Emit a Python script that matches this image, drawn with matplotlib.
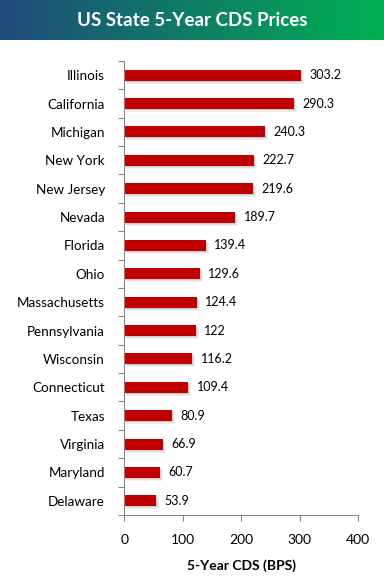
import numpy as np
import matplotlib.pyplot as plt
import matplotlib.transforms as mtransforms

# 数据
states = ['Illinois', 'California', 'Michigan', 'New York', 'New Jersey', 'Nevada',
          'Florida', 'Ohio', 'Massachusetts', 'Pennsylvania', 'Wisconsin',
          'Connecticut', 'Texas', 'Virginia', 'Maryland', 'Delaware']
cds = [303.2, 290.3, 240.3, 222.7, 219.6, 189.7, 139.4, 129.6, 124.4, 122,
       116.2, 109.4, 80.9, 66.9, 60.7, 53.9]
xticks = [0, 100, 200, 300, 400]

plt.rcParams['font.family'] = ['Lato', 'DejaVu Sans']

fig = plt.figure(figsize=(3.84, 5.78), dpi=100)

# 标题渐变条
hdr = fig.add_axes([0, 1 - 40 / 578, 1, 40 / 578])
grad = np.linspace(0, 1, 256).reshape(1, -1)
c0 = np.array([0x1f, 0x4b, 0x7c]) / 255
c1 = np.array([0x00, 0xb0, 0x50]) / 255
img = (c0[None, None, :] * (1 - grad[..., None]) + c1[None, None, :] * grad[..., None])
hdr.imshow(img, aspect='auto', extent=[0, 1, 0, 1])
hdr.set_axis_off()
hdr.text(0.5, 0.5, 'US State 5-Year CDS Prices', color='white', fontsize=13.5,
         fontweight='bold', ha='center', va='center', transform=hdr.transAxes)

ax = fig.add_axes([0.324, 0.109, 0.608, 0.7855])
y = np.arange(len(states))

# 阴影
for dx, dy, a in [(3, -3, 0.10), (2, -2, 0.15), (1, -1, 0.2)]:
    off = mtransforms.offset_copy(ax.transData, fig=fig, x=dx, y=dy, units='dots')
    ax.barh(y, cds, height=0.39, color='gray', alpha=a, transform=off, zorder=1)
ax.barh(y, cds, height=0.39, color='#c00000', zorder=2)

for yi, v in zip(y, cds):
    ax.annotate(f'{v:g}', (v, yi), xytext=(6, 0), textcoords='offset points',
                va='center', ha='left', fontsize=9, color='black')

ax.set_ylim(len(states) - 0.5, -0.5)
ax.set_xlim(0, 400)
ax.set_xticks(xticks)
ax.set_yticks(np.arange(len(states) + 1) - 0.5, minor=False)
ax.set_yticklabels([])
ax.set_yticks(y, minor=True)
ax.set_yticklabels(states, minor=True, fontsize=9.7)
ax.tick_params(axis='y', which='minor', length=0, pad=14)
ax.tick_params(axis='y', which='major', length=4, color='#868686', direction='out')
ax.tick_params(axis='x', length=4, color='#868686', labelsize=10, pad=10)
ax.set_xlabel('5-Year CDS (BPS)', fontsize=10, fontweight='bold', labelpad=9)

for s in ['top', 'right']:
    ax.spines[s].set_visible(False)
for s in ['left', 'bottom']:
    ax.spines[s].set_color('#868686')

plt.savefig('out.png', dpi=100)
plt.close(fig)
